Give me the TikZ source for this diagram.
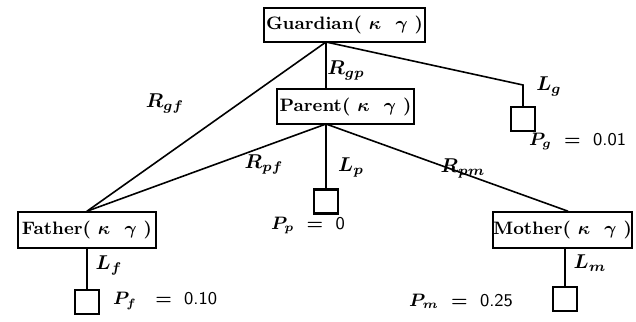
\documentclass[tikz,border=0pt]{standalone}
\usepackage{amsmath,amssymb,bm}
\usepackage{xcolor}
\usepackage{tikz}
\usetikzlibrary{positioning, calc}

\begin{document}
\begin{tikzpicture}[
    x=0.5pt, y=-0.5pt,
    person/.style={rectangle, draw, thick, inner sep=0pt, minimum height=17.5pt, font=\bfseries\small},
    leaf/.style={rectangle, draw, line width=1.1pt, inner sep=0pt, minimum size=12pt},
    wire/.style={thick},
    lab/.style={font=\normalsize},
    prob/.style={font=\small}
]
  \useasboundingbox (0,0) rectangle (636,321);

  % Family members
  \node[person, minimum width=80.5pt, minimum height=17pt] (guard) at (344.5,25) {Guardian( $\bm{\kappa}$ \ $\bm{\gamma}$ )};
  \node[person, minimum width=68.5pt] (parent) at (345.5,106.5) {Parent( $\bm{\kappa}$ \ $\bm{\gamma}$ )};
  \node[person, minimum width=69pt, minimum height=18pt] (father) at (87,230) {Father( $\bm{\kappa}$ \ $\bm{\gamma}$ )};
  \node[person, minimum width=69.5pt, minimum height=18pt] (mother) at (562.5,230) {Mother( $\bm{\kappa}$ \ $\bm{\gamma}$ )};

  % Junctions
  \coordinate (gj) at (326,42);
  \coordinate (pj) at (326,124);
  \coordinate (gc) at (523,85);

  % Leaves
  \node[leaf] (lg) at (523,119) {};
  \node[leaf] (lp) at (326,201.5) {};
  \node[leaf] (lf) at (87,302) {};
  \node[leaf] (lm) at (565,299) {};

  % Links
  \draw[wire] (gj) -- (father.north);
  \draw[wire] (gj) -- (parent.north -| gj);
  \draw[wire] (gj) -- (gc) -- (lg.north);
  \draw[wire] (pj) -- (father.north);
  \draw[wire] (pj) -- (mother.north -| 568,0);
  \draw[wire] (pj) -- (lp.north);
  \draw[wire] (father.south -| lf) -- (lf.north);
  \draw[wire] (mother.south -| lm) -- (lm.north);

  % Link labels
  \node[lab] (rgf) at (165,103) {$\bm{R_{gf}}$};
  \node[lab] (rgp) at (346,70) {$\bm{R_{gp}}$};
  \node[lab] (lgl) at (549,86) {$\bm{L_{g}}$};
  \node[lab] (rpf) at (264,164) {$\bm{R_{pf}}$};
  \node[lab] (lpl) at (351,167) {$\bm{L_{p}}$};
  \node[lab] (rpm) at (463,168) {$\bm{R_{pm}}$};
  \node[lab] (lfl) at (109,265) {$\bm{L_{f}}$};
  \node[lab] (lml) at (590,263) {$\bm{L_{m}}$};

  % Probabilities
  \node[prob, anchor=west] (pg) at (522,141) {$\bm{P_g}$ \ $\bm{=}$ \ \textsf{0.01}};
  \node[prob, anchor=west] (pp) at (264,225) {$\bm{P_p}$ \ $\bm{=}$ \ \textsf{0}};
  \node[prob, anchor=west] (pf) at (106,301) {$\bm{P_f}$ \ \ $\bm{=}$ \ \textsf{0.10}};
  \node[prob, anchor=east] (pm) at (520,301) {$\bm{P_m}$ \ $\bm{=}$ \ \textsf{0.25}};
\end{tikzpicture}
\end{document}
